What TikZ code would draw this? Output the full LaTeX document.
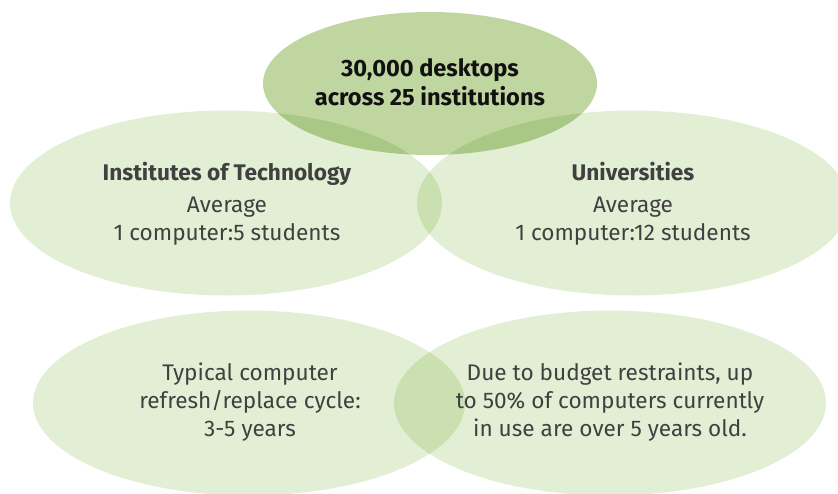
\documentclass[tikz,border=0pt]{standalone}
\usepackage{fontspec}
\setmainfont{Fira Sans}
\usetikzlibrary{shapes.geometric}
\definecolor{leaf}{RGB}{227,239,213}
\definecolor{moss}{RGB}{192,214,160}
\definecolor{ink}{RGB}{64,64,64}
\definecolor{deepink}{RGB}{17,17,17}
\begin{document}
\begin{tikzpicture}[x=1pt,y=-1pt,
  blob/.style={ellipse, fill=leaf, draw=none, inner sep=0pt,
    minimum width=432pt, minimum height=185pt},
  hub/.style={ellipse, fill=moss, draw=none, inner sep=0pt,
    minimum width=334pt, minimum height=143pt},
  body/.style={align=center, text=ink, inner sep=0pt,
    font=\fontsize{22.6}{28}\selectfont},
  headline/.style={align=center, text=deepink, inner sep=0pt,
    font=\bfseries\fontsize{23.6}{29}\selectfont}]
\useasboundingbox (0,0) rectangle (838,493);

% overlapping ellipses, darkened where they meet
\begin{scope}[blend mode=multiply]
  \node[hub]  (hub) at (430,83.5) {};
  \node[blob] (ito) at (226,203) {};
  \node[blob] (uni) at (633,203) {};
  \node[blob] (cyc) at (249,403) {};
  \node[blob] (age) at (610,403) {};
\end{scope}

% texts
\node[headline] (hubtxt) at (430,82) {30,000 desktops\\across 25 institutions};
\node[body] (itotxt) at (227,204) {\textbf{Institutes of Technology}\\[4pt]Average\\1 computer:5 students};
\node[body] (unitxt) at (633,204) {\textbf{Universities}\\[4pt]Average\\1 computer:12 students};
\node[body] (cyctxt) at (250,402) {Typical computer\\refresh/replace cycle:\\3-5 years};
\node[body] (agetxt) at (610,402) {Due to budget restraints, up\\to 50\% of computers currently\\in use are over 5 years old.};
\end{tikzpicture}
\end{document}
